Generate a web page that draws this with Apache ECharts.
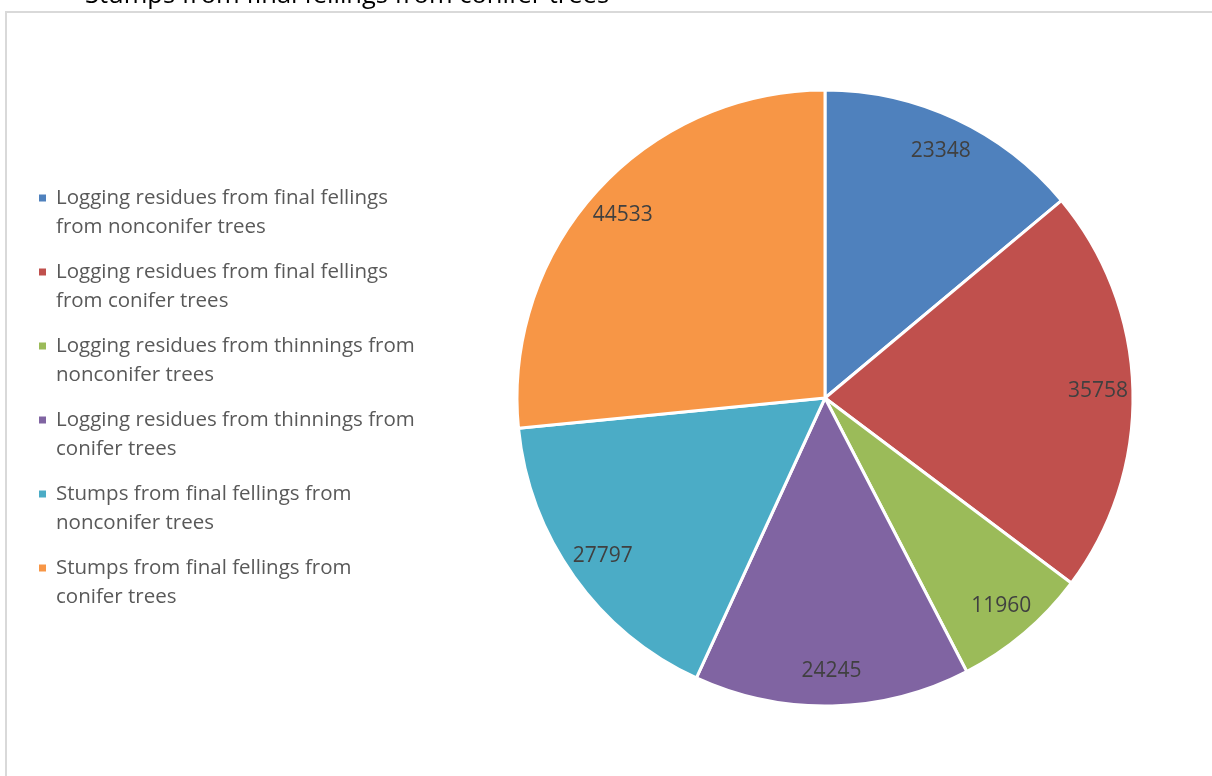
<!DOCTYPE html>
<html>
<head>
<meta charset="utf-8">
<script src="https://cdn.jsdelivr.net/npm/echarts@6/dist/echarts.min.js"></script>
<style>
html,body{margin:0;padding:0;background:#fff;}
#chart{width:1212px;height:776px;}
</style>
</head>
<body>
<div id="chart"></div>
<script>
const categories = [
  "Logging residues from final fellings from nonconifer trees",
  "Logging residues from final fellings from conifer trees",
  "Logging residues from thinnings from nonconifer trees",
  "Logging residues from thinnings from conifer trees",
  "Stumps from final fellings from nonconifer trees",
  "Stumps from final fellings from conifer trees"
];
const legendLines = [
  ["Logging residues from final fellings", "from nonconifer trees"],
  ["Logging residues from final fellings", "from conifer trees"],
  ["Logging residues from thinnings from", "nonconifer trees"],
  ["Logging residues from thinnings from", "conifer trees"],
  ["Stumps from final fellings from", "nonconifer trees"],
  ["Stumps from final fellings from", "conifer trees"]
];
const values = [23348, 35758, 11960, 24245, 27797, 44533];
const colors = ["#4F81BD", "#C0504D", "#9BBB59", "#8064A2", "#4BACC6", "#F79646"];
const titleText = "Stumps from final fellings from conifer trees";

const FONT = "'Open Sans', 'Noto Sans', sans-serif";
const chart = echarts.init(document.getElementById('chart'), null, {renderer: 'canvas'});
const data = categories.map((c, i) => ({name: c, value: values[i], itemStyle: {color: colors[i]}}));
const legendMap = {};
// leading empty line so the first text line is centred on the legend marker
categories.forEach((c, i) => legendMap[c] = "\n" + legendLines[i].join("\n"));

chart.setOption({
  animation: false,
  backgroundColor: '#ffffff',
  title: {
    text: titleText,
    left: 85,
    top: -17,
    padding: 0,
    textStyle: {fontFamily: FONT, fontSize: 25.5, fontWeight: 'normal', color: '#000000'}
  },
  graphic: [{
    type: 'rect',
    silent: true,
    shape: {x: 6, y: 12, width: 1400, height: 1000},
    style: {fill: 'none', stroke: '#d9d9d9', lineWidth: 2}
  }],
  legend: {
    orient: 'vertical',
    left: 37,
    top: 154.5,
    padding: 0,
    itemWidth: 9,
    itemHeight: 9,
    itemGap: -13,
    icon: 'rect',
    data: categories,
    formatter: name => legendMap[name],
    textStyle: {fontFamily: FONT, fontSize: 20.5, color: '#595959', lineHeight: 29, padding: [0, 0, 0, 4]}
  },
  series: [{
    type: 'pie',
    center: [825, 398],
    radius: [0, 308],
    startAngle: 90,
    clockwise: true,
    avoidLabelOverlap: false,
    itemStyle: {borderColor: '#ffffff', borderWidth: 3},
    label: {show: false},
    labelLine: {show: false},
    emphasis: {disabled: true},
    data: data
  }, {
    type: 'pie',
    silent: true,
    center: [825, 398],
    radius: [232, 308],
    startAngle: 90,
    clockwise: true,
    avoidLabelOverlap: false,
    itemStyle: {color: 'rgba(0,0,0,0)', borderWidth: 0},
    label: {show: true, position: 'inside', formatter: '{c}', fontFamily: FONT, fontSize: 21, color: '#404040'},
    labelLine: {show: false},
    emphasis: {disabled: true},
    data: categories.map((c, i) => ({name: c, value: values[i], itemStyle: {color: 'rgba(0,0,0,0)'}}))
  }]
});
</script>
</body>
</html>
